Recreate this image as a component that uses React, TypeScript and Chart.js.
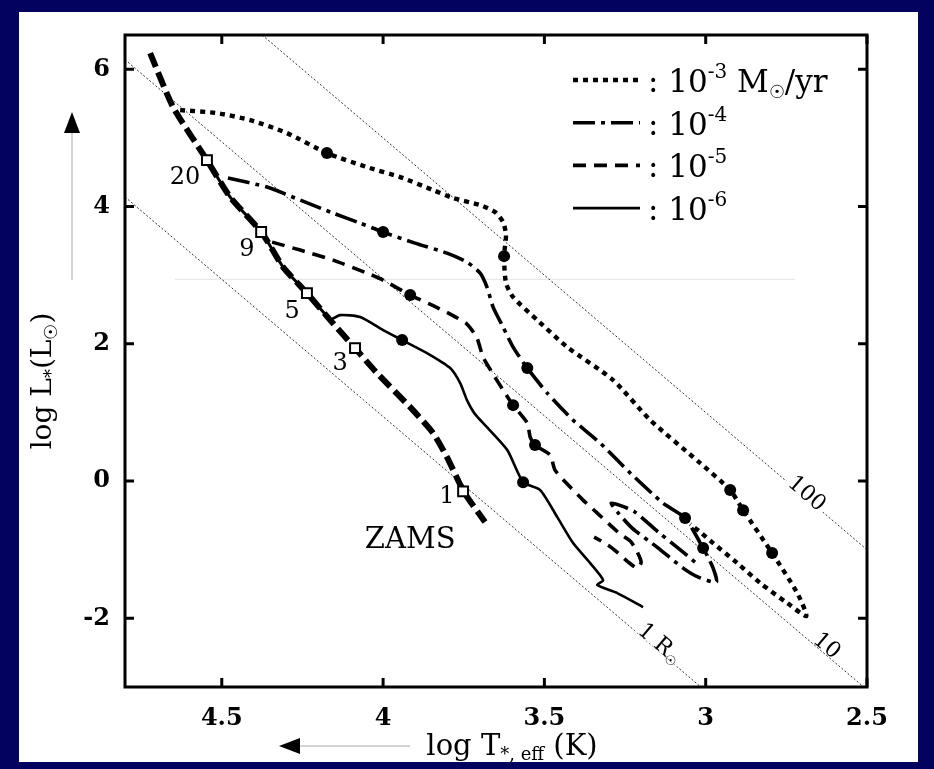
import React, { useEffect, useRef } from 'react';
import { Chart, registerables } from 'chart.js';

Chart.register(...registerables);

// ---------------- data ----------------
const xTicks = [4.5, 4, 3.5, 3, 2.5];
const yTicks = [-2, 0, 2, 4, 6];

// ZAMS (thick dashed)
const zamsLogT = [4.722, 4.651, 4.546, 4.474, 4.375, 4.31, 4.236, 4.164, 4.087, 4.019, 3.916, 3.845, 3.802, 3.749, 3.684];
const zamsLogL = [6.236, 5.45, 4.677, 4.138, 3.614, 3.118, 2.739, 2.346, 1.938, 1.574, 1.078, 0.699, 0.35, -0.16, -0.597];

// tracks running along the ZAMS (solid overlay)
const zamsTrackLogT = [4.546, 4.474, 4.375, 4.31, 4.236, 4.164];
const zamsTrackLogL = [4.677, 4.138, 3.614, 3.118, 2.739, 2.346];

// masses on the ZAMS (open squares)
const massLabels = ['20', '9', '5', '3', '1'];
const massLogT = [4.546, 4.378, 4.236, 4.087, 3.752];
const massLogL = [4.677, 3.63, 2.739, 1.938, -0.15];
const massLabelLogT = [4.614, 4.422, 4.282, 4.133, 3.802];
const massLabelLogL = [4.415, 3.366, 2.463, 1.705, -0.233];

// accretion rate 1e-3 Msun/yr
const m3LogT = [4.629, 4.515, 4.412, 4.298, 4.174, 4.05, 3.947, 3.845, 3.783, 3.699, 3.653, 3.628, 3.619, 3.625, 3.619, 3.597, 3.522, 3.429, 3.287, 3.172, 3.017, 2.924, 2.884, 2.794, 2.716, 2.688, 2.747, 2.831, 2.902, 2.977, 3.017, 3.048];
const m3LogL = [5.406, 5.362, 5.26, 5.071, 4.779, 4.575, 4.43, 4.24, 4.124, 4.022, 3.92, 3.774, 3.585, 3.278, 2.885, 2.681, 2.346, 1.953, 1.472, 0.889, 0.262, -0.131, -0.423, -1.049, -1.632, -1.967, -1.778, -1.486, -1.195, -0.903, -0.743, -0.627];
const m3DotT = [4.174, 3.625, 2.924, 2.884, 2.794];
const m3DotL = [4.779, 3.278, -0.131, -0.423, -1.049];

// 1e-4
const m4LogT = [4.481, 4.36, 4.257, 4.155, 4.071, 4.0, 3.901, 3.802, 3.74, 3.699, 3.678, 3.659, 3.628, 3.597, 3.553, 3.491, 3.411, 3.327, 3.234, 3.132, 3.064, 3.008, 2.977, 2.967, 3.023, 3.07, 3.147, 3.228, 3.271, 3.293, 3.259, 3.219, 3.147, 3.07, 3.033];
const m4LogL = [4.415, 4.284, 4.094, 3.905, 3.759, 3.628, 3.468, 3.322, 3.191, 3.031, 2.827, 2.535, 2.244, 1.953, 1.647, 1.282, 0.889, 0.554, 0.117, -0.321, -0.539, -0.976, -1.268, -1.472, -1.399, -1.268, -0.976, -0.685, -0.466, -0.321, -0.364, -0.452, -0.743, -1.035, -1.18];
const m4DotT = [4.0, 3.553, 3.064, 3.008];
const m4DotL = [3.628, 1.647, -0.539, -0.976];

// 1e-5
const m5LogT = [4.344, 4.257, 4.155, 4.05, 4.0, 3.916, 3.848, 3.792, 3.74, 3.709, 3.69, 3.659, 3.628, 3.597, 3.553, 3.544, 3.529, 3.482, 3.467, 3.42, 3.38, 3.336, 3.296, 3.265, 3.234, 3.215, 3.2, 3.212, 3.24, 3.271, 3.302, 3.346];
const m5LogL = [3.482, 3.366, 3.22, 3.031, 2.929, 2.71, 2.564, 2.433, 2.288, 2.084, 1.807, 1.559, 1.326, 1.107, 0.845, 0.641, 0.525, 0.379, 0.16, -0.087, -0.277, -0.466, -0.641, -0.772, -0.874, -1.005, -1.18, -1.268, -1.18, -1.049, -0.933, -0.816];
const m5DotT = [3.916, 3.597, 3.529];
const m5DotL = [2.71, 1.107, 0.525];

// 1e-6
const m6LogT = [4.164, 4.133, 4.071, 4.0, 3.941, 3.864, 3.792, 3.761, 3.74, 3.715, 3.678, 3.615, 3.566, 3.513, 3.46, 3.411, 3.358, 3.318, 3.336, 3.274, 3.194];
const m6LogL = [2.346, 2.419, 2.39, 2.2, 2.055, 1.865, 1.647, 1.428, 1.18, 0.976, 0.787, 0.452, -0.015, -0.131, -0.525, -0.903, -1.195, -1.443, -1.515, -1.632, -1.836];
const m6DotT = [3.941, 3.566];
const m6DotL = [2.055, -0.015];

// constant-radius lines
const r1LogT = [4.8, 3.015];
const r1LogL = [4.14, -3.0];
const r10LogT = [4.8, 2.51];
const r10LogL = [6.14, -3.0];
const r100LogT = [4.375, 2.5];
const r100LogL = [6.5, -1.0];
const rLabelLogT = [3.141, 2.623, 2.685];
const rLabelLogL = [-2.36, -2.39, -0.175];

// faint horizontal scan artefact
const faintLogT = [4.645, 2.723];
const faintLogL = [2.94, 2.94];

const legendExponents = ['-3', '-4', '-5', '-6'];

// ---------------- styling ----------------
const NAVY = '#03035f';
const FAMILY = '"DejaVu Serif", "Liberation Serif", serif';
const fnt = (size: number, weight = 'normal') => `${weight} ${size}px ${FAMILY}`;

const pts = (t: number[], l: number[]) => t.map((v, i) => ({ x: v, y: l[i] }));

const trackStyles = [
  { dash: [5, 5], width: 4.4 },
  { dash: [22, 6, 4, 6], width: 3.6 },
  { dash: [13, 8], width: 3.6 },
  { dash: [], width: 2.6 },
];

type Part = { t: string; size: number; dy?: number; weight?: string };

function drawRich(ctx: CanvasRenderingContext2D, x: number, y: number, parts: Part[], align: 'left' | 'center' | 'right') {
  let w = 0;
  for (const p of parts) {
    ctx.font = fnt(p.size, p.weight);
    w += ctx.measureText(p.t).width;
  }
  let cx = align === 'left' ? x : align === 'center' ? x - w / 2 : x - w;
  ctx.textAlign = 'left';
  ctx.textBaseline = 'alphabetic';
  for (const p of parts) {
    ctx.font = fnt(p.size, p.weight);
    ctx.fillText(p.t, cx, y + (p.dy || 0));
    cx += ctx.measureText(p.t).width;
  }
  return w;
}

const decor = {
  id: 'decor',
  afterDraw(chart: any) {
    const ctx: CanvasRenderingContext2D = chart.ctx;
    const { left, right, top, bottom } = chart.chartArea;
    const xs = chart.scales.x;
    const ys = chart.scales.y;
    ctx.save();
    ctx.fillStyle = '#000';
    ctx.strokeStyle = '#000';

    // frame
    ctx.lineWidth = 3;
    ctx.setLineDash([]);
    ctx.strokeRect(left, top, right - left, bottom - top);

    // inward ticks
    ctx.lineWidth = 3;
    const tl = 9;
    for (const v of xTicks) {
      const px = xs.getPixelForValue(v);
      ctx.beginPath();
      ctx.moveTo(px, bottom);
      ctx.lineTo(px, bottom - tl);
      ctx.moveTo(px, top);
      ctx.lineTo(px, top + tl);
      ctx.stroke();
    }
    for (const v of yTicks) {
      const py = ys.getPixelForValue(v);
      ctx.beginPath();
      ctx.moveTo(left, py);
      ctx.lineTo(left + tl, py);
      ctx.moveTo(right, py);
      ctx.lineTo(right - tl, py);
      ctx.stroke();
    }

    // mass labels
    ctx.font = fnt(24);
    ctx.textAlign = 'center';
    ctx.textBaseline = 'middle';
    massLabels.forEach((m, i) => {
      ctx.fillText(m, xs.getPixelForValue(massLabelLogT[i]), ys.getPixelForValue(massLabelLogL[i]));
    });

    // ZAMS label
    ctx.font = fnt(29);
    ctx.fillText('ZAMS', xs.getPixelForValue(3.916), ys.getPixelForValue(-0.86));

    // radius line labels
    const rLines = [
      [r1LogT, r1LogL],
      [r10LogT, r10LogL],
      [r100LogT, r100LogL],
    ];
    const rTexts: Part[][] = [
      [{ t: '1 R', size: 22 }, { t: '☉', size: 13, dy: 4 }],
      [{ t: '10', size: 22 }],
      [{ t: '100', size: 22 }],
    ];
    rLines.forEach(([t, l], i) => {
      const x1 = xs.getPixelForValue(t[0]);
      const y1 = ys.getPixelForValue(l[0]);
      const x2 = xs.getPixelForValue(t[1]);
      const y2 = ys.getPixelForValue(l[1]);
      const ang = Math.atan2(y2 - y1, x2 - x1);
      const cx = xs.getPixelForValue(rLabelLogT[i]);
      const cy = ys.getPixelForValue(rLabelLogL[i]);
      ctx.save();
      ctx.translate(cx, cy);
      ctx.rotate(ang);
      let w = 0;
      for (const p of rTexts[i]) {
        ctx.font = fnt(p.size);
        w += ctx.measureText(p.t).width;
      }
      ctx.fillStyle = '#fff';
      ctx.fillRect(-w / 2 - 3, -13, w + 6, 20);
      ctx.fillStyle = '#000';
      drawRich(ctx, 0, 7, rTexts[i], 'center');
      ctx.restore();
    });

    // legend
    const lx0 = right - 294;
    const lx1 = right - 227;
    const ly0 = top + 45;
    const lstep = 42.7;
    legendExponents.forEach((e, i) => {
      const y = ly0 + i * lstep;
      const st = trackStyles[i];
      ctx.save();
      ctx.lineWidth = st.width;
      ctx.setLineDash(st.dash);
      ctx.lineCap = 'butt';
      ctx.beginPath();
      ctx.moveTo(lx0, y);
      ctx.lineTo(lx1, y);
      ctx.stroke();
      ctx.restore();
      const parts: Part[] = [
        { t: ': 10', size: 31 },
        { t: e, size: 20, dy: -14 },
      ];
      if (i === 0) {
        parts.push({ t: ' M', size: 31 }, { t: '☉', size: 18, dy: 6 }, { t: '/yr', size: 31 });
      }
      drawRich(ctx, lx1 + 8, y + 12, parts, 'left');
    });

    // y axis title (rotated)
    ctx.save();
    ctx.translate(42, 381);
    ctx.rotate(-Math.PI / 2);
    drawRich(
      ctx,
      0,
      9,
      [
        { t: 'log L', size: 28 },
        { t: '*', size: 18, dy: 6 },
        { t: '(L', size: 28 },
        { t: '☉', size: 18, dy: 6 },
        { t: ')', size: 28 },
      ],
      'center'
    );
    ctx.restore();

    // x axis title
    drawRich(
      ctx,
      512,
      755,
      [
        { t: 'log T', size: 29 },
        { t: '*, eff', size: 18, dy: 5 },
        { t: ' (K)', size: 29 },
      ],
      'center'
    );

    // arrows
    ctx.strokeStyle = '#a8a8a8';
    ctx.lineWidth = 1;
    ctx.beginPath();
    ctx.moveTo(72, 280);
    ctx.lineTo(72, 132);
    ctx.moveTo(410, 746);
    ctx.lineTo(298, 746);
    ctx.stroke();
    ctx.fillStyle = '#000';
    ctx.beginPath();
    ctx.moveTo(72, 112);
    ctx.lineTo(64, 133);
    ctx.lineTo(80, 133);
    ctx.closePath();
    ctx.fill();
    ctx.beginPath();
    ctx.moveTo(279, 746);
    ctx.lineTo(300, 738);
    ctx.lineTo(300, 754);
    ctx.closePath();
    ctx.fill();

    ctx.restore();
  },
};

export default function App() {
  const ref = useRef<HTMLCanvasElement | null>(null);

  useEffect(() => {
    const canvas = ref.current;
    if (!canvas) return;

    const rLine = (t: number[], l: number[]) => ({
      data: pts(t, l),
      showLine: true,
      borderColor: '#333',
      borderWidth: 1,
      borderDash: [2, 2],
      pointRadius: 0,
      order: 10,
    });

    const track = (t: number[], l: number[], i: number) => ({
      data: pts(t, l),
      showLine: true,
      borderColor: '#000',
      borderWidth: trackStyles[i].width,
      borderDash: trackStyles[i].dash,
      borderCapStyle: 'butt',
      borderJoinStyle: 'round',
      tension: 0.22,
      pointRadius: 0,
      order: 5,
    });

    const dots = (t: number[], l: number[]) => ({
      data: pts(t, l),
      showLine: false,
      pointRadius: 6,
      pointBackgroundColor: '#000',
      pointBorderColor: '#000',
      pointBorderWidth: 0,
      order: 1,
    });

    const chart = new Chart(canvas, {
      type: 'scatter',
      data: {
        datasets: [
          {
            data: pts(faintLogT, faintLogL),
            showLine: true,
            borderColor: '#e9e2e2',
            borderWidth: 1,
            pointRadius: 0,
            order: 11,
          },
          rLine(r1LogT, r1LogL),
          rLine(r10LogT, r10LogL),
          rLine(r100LogT, r100LogL),
          {
            data: pts(zamsLogT, zamsLogL),
            showLine: true,
            borderColor: '#000',
            borderWidth: 6,
            borderDash: [15, 6],
            borderCapStyle: 'butt',
            tension: 0.2,
            pointRadius: 0,
            order: 6,
          },
          {
            data: pts(zamsTrackLogT, zamsTrackLogL),
            showLine: true,
            borderColor: '#000',
            borderWidth: 3,
            tension: 0.2,
            pointRadius: 0,
            order: 5,
          },
          track(m3LogT, m3LogL, 0),
          track(m4LogT, m4LogL, 1),
          track(m5LogT, m5LogL, 2),
          track(m6LogT, m6LogL, 3),
          dots(m3DotT, m3DotL),
          dots(m4DotT, m4DotL),
          dots(m5DotT, m5DotL),
          dots(m6DotT, m6DotL),
          {
            data: pts(massLogT, massLogL),
            showLine: false,
            pointStyle: 'rect',
            pointRadius: 7,
            pointBackgroundColor: '#fff',
            pointBorderColor: '#000',
            pointBorderWidth: 2,
            order: 0,
          },
        ] as any,
      },
      options: {
        responsive: false,
        devicePixelRatio: 1,
        animation: false,
        events: [],
        layout: { padding: { left: 0, right: 67, top: 35, bottom: 0 } },
        plugins: { legend: { display: false }, tooltip: { enabled: false } },
        scales: {
          x: {
            type: 'linear',
            reverse: true,
            min: 2.5,
            max: 4.8,
            afterBuildTicks: (s: any) => {
              s.ticks = xTicks.map((v) => ({ value: v }));
            },
            afterFit: (s: any) => {
              s.height = 82;
            },
            grid: { display: false, drawTicks: false },
            border: { display: false },
            ticks: {
              color: '#000',
              font: { family: FAMILY, size: 24, weight: 'bold' },
              padding: 17,
              maxRotation: 0,
              autoSkip: false,
              callback: (v: any) => String(v),
            },
          },
          y: {
            type: 'linear',
            min: -3,
            max: 6.5,
            afterBuildTicks: (s: any) => {
              s.ticks = yTicks.map((v) => ({ value: v }));
            },
            afterFit: (s: any) => {
              s.width = 125;
            },
            grid: { display: false, drawTicks: false },
            border: { display: false },
            ticks: {
              color: '#000',
              font: { family: FAMILY, size: 24, weight: 'bold' },
              padding: 15,
              autoSkip: false,
              callback: (v: any) => String(v),
            },
          },
        },
      } as any,
      plugins: [decor],
    });

    return () => chart.destroy();
  }, []);

  return (
    <div style={{ position: 'fixed', left: 0, top: 0, width: 934, height: 769, background: NAVY, overflow: 'hidden' }}>
      <div style={{ position: 'absolute', left: 19, top: 12, width: 899, height: 750, background: '#fff' }} />
      <canvas ref={ref} width={934} height={769} style={{ position: 'absolute', left: 0, top: 0, width: 934, height: 769 }} />
    </div>
  );
}
